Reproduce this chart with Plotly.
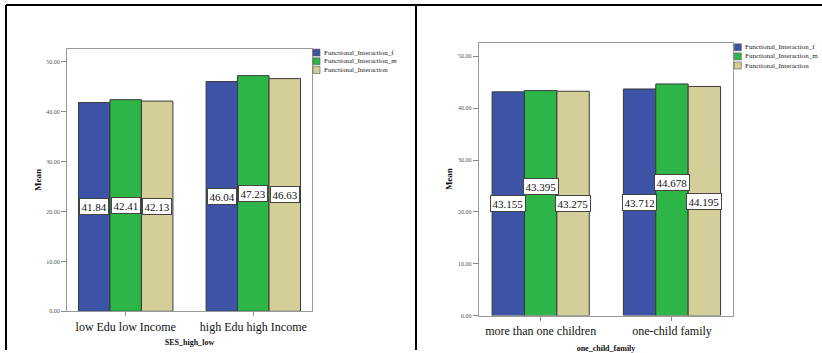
import plotly.graph_objects as go

# ---- data ----
series_names = ["Functional_Interaction_f", "Functional_Interaction_m", "Functional_Interaction"]
left_categories = ["low Edu low Income", "high Edu high Income"]
left_f = [41.84, 46.04]
left_m = [42.41, 47.23]
left_all = [42.13, 46.63]
left_labels_f = ["41.84", "46.04"]
left_labels_m = ["42.41", "47.23"]
left_labels_all = ["42.13", "46.63"]

right_categories = ["more than one children", "one-child family"]
right_f = [43.155, 43.712]
right_m = [43.395, 44.678]
right_all = [43.275, 44.195]
right_labels_f = ["43.155", "43.712"]
right_labels_m = ["43.395", "44.678"]
right_labels_all = ["43.275", "44.195"]

y_tick_vals = [0, 10, 20, 30, 40, 50]
y_tick_text = ["0.00", "10.00", "20.00", "30.00", "40.00", "50.00"]

# ---- style ----
W, H = 822, 353
colors = ["#3D53A6", "#2DB547", "#D4CF98"]
SERIF = "Liberation Serif, Times New Roman, serif"
BARGAP = 0.26


def px_x(p):
    return p / W


def px_y(p):
    return 1 - p / H


fig = go.Figure()

panels = [
    dict(cats=left_categories, vals=[left_f, left_m, left_all],
         labels=[left_labels_f, left_labels_m, left_labels_all],
         xa="x", ya="y", shifts=[0, 0, 0]),
    dict(cats=right_categories, vals=[right_f, right_m, right_all],
         labels=[right_labels_f, right_labels_m, right_labels_all],
         xa="x2", ya="y2", shifts=[0, 17, 0]),
]

annotations = []
for p in panels:
    for i, (name, vals) in enumerate(zip(series_names, p["vals"])):
        fig.add_trace(go.Bar(
            x=list(range(len(p["cats"]))), y=vals, name=name,
            marker=dict(color=colors[i], line=dict(color="#3a3a3a", width=1)),
            xaxis=p["xa"], yaxis=p["ya"], showlegend=False,
            hoverinfo="y",
        ))
        bw = (1 - BARGAP) / 3
        for j, v in enumerate(vals):
            annotations.append(dict(
                x=j + (i - 1) * bw, y=v / 2, xref=p["xa"], yref=p["ya"],
                text=p["labels"][i][j], showarrow=False,
                font=dict(family=SERIF, size=11, color="#111"),
                bgcolor="white", bordercolor="#444", borderwidth=1, borderpad=1.5,
                yshift=p["shifts"][i],
            ))

axis_common_y = dict(
    range=[0, 52.65], tickvals=y_tick_vals, ticktext=y_tick_text,
    tickfont=dict(family=SERIF, size=6, color="#555"),
    ticks="outside", ticklen=5, tickcolor="#888",
    showline=True, linecolor="#999", linewidth=1, mirror=True,
    showgrid=False, zeroline=False, fixedrange=True,
)
axis_common_x = dict(
    tickfont=dict(family=SERIF, size=12, color="#111"),
    ticks="outside", ticklen=4, tickcolor="#888",
    showline=True, linecolor="#999", linewidth=1, mirror=True,
    showgrid=False, zeroline=False, fixedrange=True,
)

fig.update_layout(
    width=W, height=H, margin=dict(l=0, r=0, t=0, b=0),
    paper_bgcolor="white", plot_bgcolor="white",
    barmode="group", bargap=BARGAP, bargroupgap=0,
    showlegend=False,
    xaxis=dict(axis_common_x, domain=[px_x(67), px_x(312)], anchor="y",
               range=[-0.46, 1.46], tickvals=[0, 1], ticktext=left_categories,
               title=dict(text="<b>SES_high_low</b>", font=dict(family=SERIF, size=8, color="#111"), standoff=6)),
    yaxis=dict(axis_common_y, domain=[px_y(314), px_y(49)], anchor="x",
               title=dict(text="<b>Mean</b>", font=dict(family=SERIF, size=9, color="#111"), standoff=3)),
    xaxis2=dict(axis_common_x, domain=[px_x(478.7), px_x(733.3)], anchor="y2",
                range=[-0.472, 1.467], tickvals=[0, 1], ticktext=right_categories,
                title=dict(text="<b>one_child_family</b>", font=dict(family=SERIF, size=8, color="#111"), standoff=8)),
    yaxis2=dict(axis_common_y, domain=[px_y(318.3), px_y(43)], anchor="x2",
                title=dict(text="<b>Mean</b>", font=dict(family=SERIF, size=9, color="#111"), standoff=3)),
)

shapes = []
# panel frame lines
for (x0, y0, x1, y1) in [(6, 5, 822, 5), (6, 5, 6, 353), (416, 5, 416, 353)]:
    shapes.append(dict(type="line", xref="paper", yref="paper",
                       x0=px_x(x0), y0=px_y(y0), x1=px_x(x1), y1=px_y(y1),
                       line=dict(color="black", width=2)))

# custom compact legends (SPSS style)
for (lx, ly0, step) in [(313, 53, 8.8), (734.3, 47.7, 9.2)]:
    for i, name in enumerate(series_names):
        cy = ly0 + i * step
        shapes.append(dict(type="rect", xref="paper", yref="paper",
                           x0=px_x(lx), x1=px_x(lx + 7), y0=px_y(cy + 3.5), y1=px_y(cy - 3.5),
                           fillcolor=colors[i], line=dict(color="#555", width=0.6)))
        annotations.append(dict(
            x=px_x(lx + 8.5), y=px_y(cy), xref="paper", yref="paper",
            xanchor="left", yanchor="middle", text=name, showarrow=False,
            font=dict(family=SERIF, size=7, color="#222"),
        ))

fig.update_layout(shapes=shapes, annotations=annotations)

fig.write_html("out.html",
               config={"displayModeBar": False},
               post_script="document.body.style.margin='0';document.body.style.overflow='hidden';")
